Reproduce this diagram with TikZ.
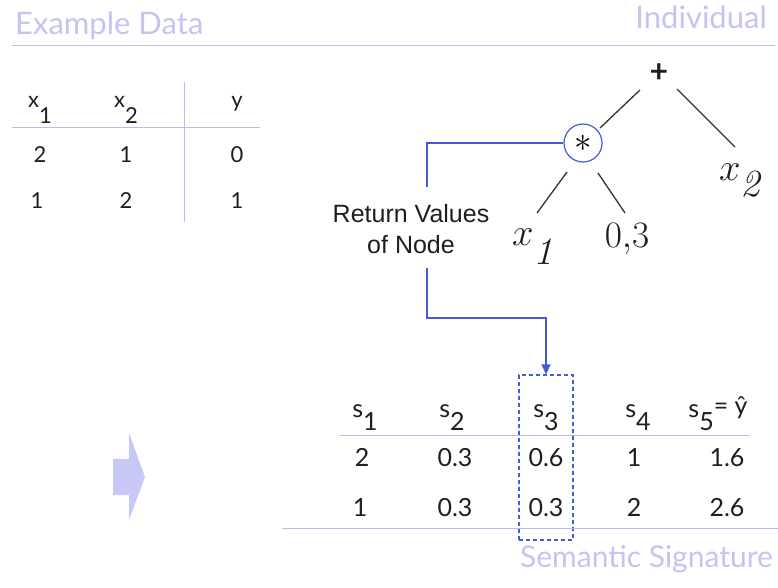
\documentclass[tikz,border=0pt]{standalone}
\usepackage[no-math]{fontspec}
\setmainfont{Lato}
\newfontfamily\helv{Liberation Sans}
\usetikzlibrary{arrows.meta}
\definecolor{lav}{RGB}{196,196,242}
\definecolor{lavline}{RGB}{188,188,236}
\definecolor{blueC}{RGB}{70,90,215}
\definecolor{arrowfill}{RGB}{200,200,248}
\definecolor{ink}{RGB}{30,30,30}
\begin{document}
\begin{tikzpicture}[x=1pt,y=-1pt,
  title/.style={text=lav, font=\fontsize{31}{36}\selectfont, inner sep=0pt},
  rule/.style={draw=lavline, line width=1pt},
  ltab/.style={text=ink, font=\fontsize{22}{26}\selectfont, anchor=base, inner sep=0pt},
  btab/.style={text=ink, font=\fontsize{25}{29}\selectfont, anchor=base, inner sep=0pt},
  leaf/.style={text=ink, font=\fontsize{24.88}{30}\selectfont, anchor=base, inner sep=0pt},
  edge/.style={draw=black!80, line width=1.3pt},
  conn/.style={draw=blueC, line width=1.2pt}]
\useasboundingbox (0,0) rectangle (778,587);

% titles
\node[title, anchor=base west] (t1) at (15,34) {Example Data};
\node[title, anchor=base east] (t2) at (767,28) {Individual};
\draw[rule] (12,45) -- (775,45);

% left table
\node[ltab] (lh1) at (40,107) {x\raisebox{-16pt}{1}};
\node[ltab] (lh2) at (126,107) {x\raisebox{-16pt}{2}};
\node[ltab] (lh3) at (237,107) {y};
\node[ltab] (l11) at (40,162) {2};
\node[ltab] (l12) at (126,162) {1};
\node[ltab] (l13) at (237,162) {0};
\node[ltab] (l21) at (37,208) {1};
\node[ltab] (l22) at (126,208) {2};
\node[ltab] (l23) at (237,208) {1};
\draw[rule] (12,127) -- (260,127);
\draw[rule] (184,82) -- (184,222);

% tree
\node[text=ink, font=\bfseries\fontsize{32}{36}\selectfont, inner sep=0pt] (plus) at (659,73) {+};
\node[circle, draw=blueC, line width=1.2pt, fill=white, minimum size=38pt, inner sep=0pt,
      font=\fontsize{24.88}{30}\selectfont] (mul) at (583,143) {\scalebox{1.4}{$\ast$}};
\node[leaf] (x2) at (742,180) {\scalebox{1.55}{$x$\raisebox{-10.5pt}{$\mathit{2}$}}};
\node[leaf] (x1) at (535,245) {\scalebox{1.55}{$x$\raisebox{-12.5pt}{$\mathit{1}$}}};
\node[leaf] (c03) at (627,247) {\scalebox{1.5}{$0{,}3$}};
\draw[edge] ([shift={(-19,17)}]plus.center) -- ([shift={(17,-15)}]mul.center);
\draw[edge] ([shift={(18,16)}]plus.center) -- ([shift={(-7,-33)}]x2.base);
\draw[edge] ([shift={(-16,29)}]mul.center) -- ([shift={(2,-32)}]x1.base);
\draw[edge] ([shift={(15,30)}]mul.center) -- ([shift={(-2,-34)}]c03.base);

% return values label and connector
\node[text=ink, font=\helv\fontsize{25}{31}\selectfont, align=center, inner sep=0pt] (rv) at (411,229) {Return Values\\of Node};
\node[draw=blueC, dash pattern=on 4pt off 3pt, line width=1.2pt, minimum width=54pt, minimum height=165pt, inner sep=0pt] (box) at (546,457.5) {};
\coordinate (c1) at (427,187);
\coordinate (c2) at (427,268);
\coordinate (c3) at (546,318);
\draw[conn] (mul.west) -| (c1);
\draw[conn, -{Triangle[length=10pt,width=9pt]}] (c2) |- (c3) -- (box.north);

% bottom table
\node[btab] (s1) at (365,417) {s\raisebox{-13pt}{1}};
\node[btab] (s2) at (452,417) {s\raisebox{-13pt}{2}};
\node[btab] (s3) at (546,417) {s\raisebox{-13pt}{3}};
\node[btab] (s4) at (638,417) {s\raisebox{-13pt}{4}};
\node[btab] (s5) at (718,417) {s\raisebox{-13pt}{5}\raisebox{3pt}{= ŷ}};
\node[btab] (r11) at (362,466) {2};
\node[btab] (r12) at (455,466) {0.3};
\node[btab] (r13) at (546,466) {0.6};
\node[btab] (r14) at (634,466) {1};
\node[btab] (r15) at (727,466) {1.6};
\node[btab] (r21) at (360,516) {1};
\node[btab] (r22) at (455,516) {0.3};
\node[btab] (r23) at (546,516) {0.3};
\node[btab] (r24) at (634,516) {2};
\node[btab] (r25) at (727,516) {2.6};
\draw[rule] (340,435) -- (750,435);
\draw[rule] (282,528) -- (778,528);
\node[text=lav, font=\fontsize{30}{34}\selectfont, inner sep=0pt, anchor=base east] (t3) at (773,567) {Semantic Signature};

% block arrow
\fill[arrowfill] (113,459) -- (129,459) -- (129,433) -- (145,477) -- (129,520) -- (129,495) -- (113,495) -- cycle;
\end{tikzpicture}
\end{document}
